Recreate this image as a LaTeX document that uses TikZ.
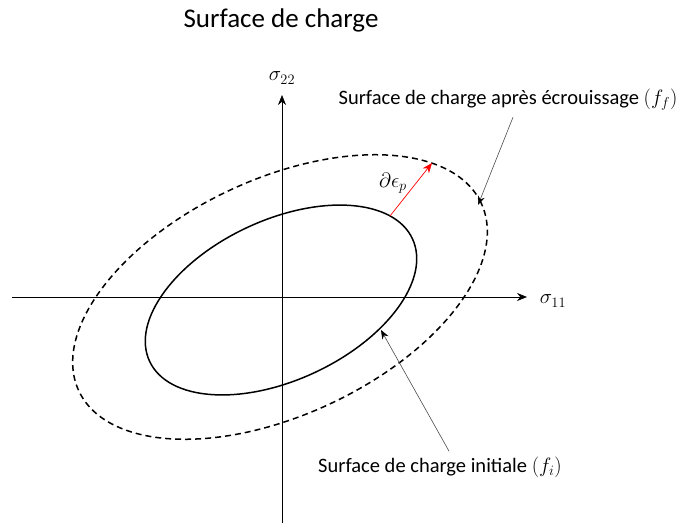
\documentclass[tikz,border=0pt]{standalone}
\usepackage{amsmath,amssymb}
\usepackage{fontspec}
\setmainfont{Carlito}
\usetikzlibrary{arrows.meta,calc,positioning}

\begin{document}
\begin{tikzpicture}[x=1pt,y=1pt,>=Stealth,font=\fontsize{20.5}{24}\selectfont]
\useasboundingbox (-282,-226) rectangle (402,297);
% yield surface before / after hardening
\tikzset{axe/.style={line width=0.7pt,-{Stealth[length=10pt,width=8pt]}},
  annot/.style={black!70,line width=0.6pt,-{Stealth[length=9pt,width=7pt,black]}}}
\node (titre) at (-1,277){\fontsize{27}{31}\selectfont Surface de charge};
% axes
\coordinate (O) at (0,0);
\coordinate (Xg) at (-270,0); \coordinate (Xd) at (245,0);
\coordinate (Yb) at (0,-226); \coordinate (Yh) at (0,202);
\draw[axe] (Xg)--(Xd);
\draw[axe] (Yb)--(Yh);
\node (s11) at (271,-4){$\sigma_{11}$};
\node (s22) at (0,219){$\sigma_{22}$};
% initial surface (f_i) and hardened surface (f_f)
\draw[line width=1.5pt] (-1,-3) ellipse[x radius=145,y radius=80,rotate=25];
\draw[line width=1.5pt,dash pattern=on 6pt off 4pt] (-2,0) ellipse[x radius=222,y radius=118,rotate=25];
% plastic strain increment
\coordinate (Pi) at (108,81);
\coordinate (Pf) at (150,134);
\draw[red,line width=0.7pt,-{Stealth[length=10pt,width=8pt]}] (Pi)--(Pf);
\node (deps) at (111,114){$\partial\epsilon_p$};
% labels with leader lines
\node (ff) at (226,197){Surface de charge après écrouissage $(f_f)$};
\node (fi) at (158,-170){Surface de charge initiale $(f_i)$};
\coordinate (Af) at (196,92);
\coordinate (Ai) at (99,-33);
\draw[annot] (ff.south)++(5,-3)--(Af);
\draw[annot] (fi.north)++(9,2)--(Ai);
\end{tikzpicture}
\end{document}
